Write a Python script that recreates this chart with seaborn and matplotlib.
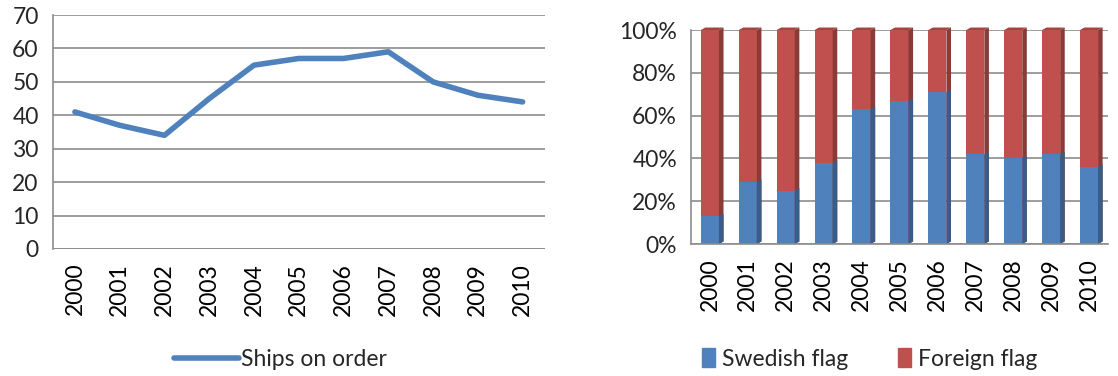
import numpy as np
import pandas as pd
import matplotlib
matplotlib.use("Agg")
import matplotlib.pyplot as plt
from matplotlib.lines import Line2D
from matplotlib.patches import Patch, Polygon
import matplotlib.colors as mcolors
import seaborn as sns

years = ["2000", "2001", "2002", "2003", "2004", "2005",
         "2006", "2007", "2008", "2009", "2010"]
ships_on_order = [41, 37, 34, 45, 55, 57, 57, 59, 50, 46, 44]
swedish_share = [13, 29, 25, 38, 63, 67, 71, 42, 40, 42, 36]
foreign_share = [100 - s for s in swedish_share]

BLUE = "#4F81BD"
RED = "#C0504D"
GRID = "#8C8C8C"
FS = 16.5

sns.set_theme(style="white")
plt.rcParams["font.family"] = ["Lato", "DejaVu Sans"]
plt.rcParams["font.size"] = FS

fig = plt.figure(figsize=(11.18, 3.76), dpi=100)

# ---- left: ships on order ----
ax1 = fig.add_axes([0.047, 0.338, 0.4405, 0.622])
df_line = pd.DataFrame({"year": years, "ships": ships_on_order})
sns.lineplot(data=df_line, x="year", y="ships", ax=ax1, color=BLUE,
             linewidth=4.0, sort=False, solid_capstyle="round",
             solid_joinstyle="round")
ax1.set_ylim(0, 70)
ax1.set_xlim(-0.5, len(years) - 0.5)
ax1.set_yticks(range(0, 71, 10))
ax1.yaxis.grid(True, color=GRID, linewidth=1.2)
ax1.set_axisbelow(True)

# ---- right: flag shares, stacked to 100 % ----
ax2 = fig.add_axes([0.618, 0.351, 0.373, 0.569])
df_bar = pd.DataFrame({"year": years, "swedish": swedish_share,
                       "foreign": foreign_share})
df_bar["total"] = df_bar["swedish"] + df_bar["foreign"]
sns.barplot(data=df_bar, x="year", y="total", ax=ax2, color=RED,
            width=0.48, saturation=1, edgecolor="none")
sns.barplot(data=df_bar, x="year", y="swedish", ax=ax2, color=BLUE,
            width=0.48, saturation=1, edgecolor="none")
ax2.set_ylim(0, 100)
ax2.set_xlim(-0.5, len(years) - 0.5)
ax2.set_yticks(range(0, 101, 20))
ax2.set_yticklabels([f"{v}%" for v in range(0, 101, 20)])
ax2.yaxis.grid(True, color=GRID, linewidth=1.2)
ax2.set_axisbelow(True)

# depth faces on each bar segment to give the columns a solid look
dx, dy = 0.12, 1.2
def darker(c, f):
    r, g, b = mcolors.to_rgb(c)
    return (r * f, g * f, b * f)

for p in list(ax2.patches):
    x0, y0 = p.get_x(), p.get_y()
    w, h = p.get_width(), p.get_height()
    fc = p.get_facecolor()
    side = Polygon([(x0 + w, y0), (x0 + w + dx, y0 + dy),
                    (x0 + w + dx, y0 + h + dy), (x0 + w, y0 + h)],
                   closed=True, facecolor=darker(fc, 0.72),
                   edgecolor="none", zorder=p.get_zorder(), clip_on=False)
    ax2.add_patch(side)
for i, p in enumerate(ax2.patches[:len(years)]):
    x0, w, h = p.get_x(), p.get_width(), p.get_height()
    top = Polygon([(x0, h), (x0 + dx, h + dy), (x0 + w + dx, h + dy),
                   (x0 + w, h)], closed=True,
                  facecolor=darker(RED, 0.85), edgecolor="none",
                  zorder=p.get_zorder(), clip_on=False)
    ax2.add_patch(top)

for ax in (ax1, ax2):
    ax.set_xlabel("")
    ax.set_ylabel("")
    for s in ("top", "right"):
        ax.spines[s].set_visible(False)
    for s in ("left", "bottom"):
        ax.spines[s].set_color(GRID)
        ax.spines[s].set_linewidth(1.2)
    ax.set_xticks(range(len(years)))
    ax.set_xticklabels(years, rotation=90)
    ax.tick_params(axis="x", which="major", length=0, pad=10,
                   labelsize=FS, colors="black")
    ax.set_xticks(np.arange(-0.5, len(years), 1.0), minor=True)
    ax.tick_params(axis="x", which="minor", length=7, width=1.2,
                   color=GRID, direction="out")
    ax.tick_params(axis="y", length=6, width=1.2, color=GRID,
                   direction="out", labelsize=FS, pad=4)
    ax.grid(False, axis="x")

ax1.spines["bottom"].set_visible(False)
ax1.axhline(0, color=GRID, linewidth=1.2, zorder=1)

fig.legend(handles=[Line2D([0], [0], color=BLUE, linewidth=4.0)],
           labels=["Ships on order"], loc="center",
           bbox_to_anchor=(0.251, 0.045), frameon=False, fontsize=FS,
           handlelength=2.8, handletextpad=0.1)
fig.legend(handles=[Patch(color=BLUE), Patch(color=RED)],
           labels=["Swedish flag", "Foreign flag"], loc="center",
           bbox_to_anchor=(0.778, 0.045), ncol=2, frameon=False,
           fontsize=FS, handlelength=0.55, handleheight=0.9,
           handletextpad=0.3, columnspacing=2.2)

fig.savefig("out.png", dpi=100)
